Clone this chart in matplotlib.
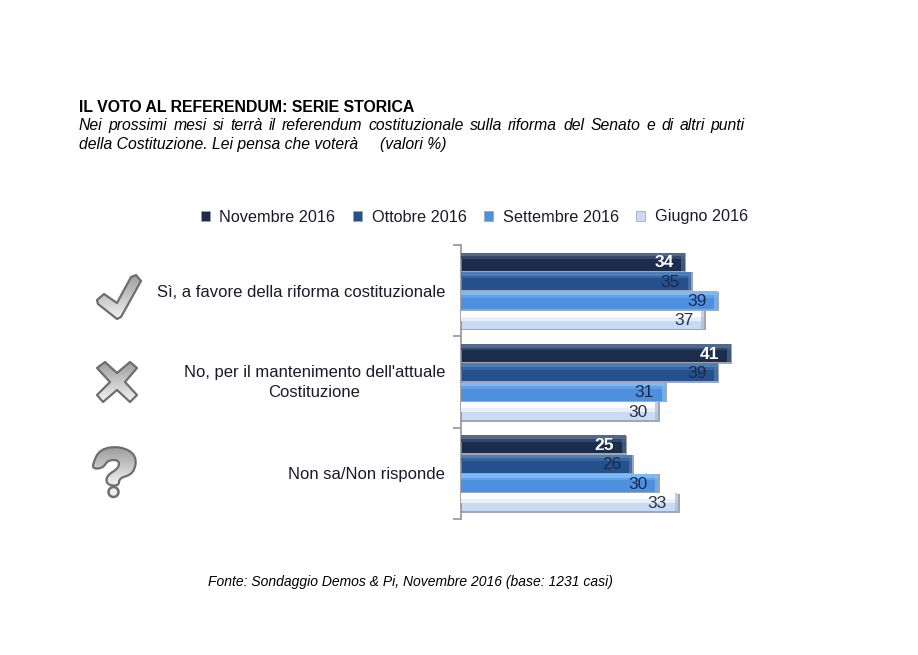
import matplotlib
matplotlib.use('Agg')
import matplotlib.pyplot as plt
import numpy as np
from matplotlib.path import Path
from matplotlib.patches import PathPatch, Circle
from matplotlib.transforms import ScaledTranslation

plt.rcParams['font.family'] = ['Liberation Sans', 'DejaVu Sans']

categories = ["Sì, a favore della riforma costituzionale",
              "No, per il mantenimento dell'attuale\nCostituzione",
              "Non sa/Non risponde"]
serie = ['Novembre 2016', 'Ottobre 2016', 'Settembre 2016', 'Giugno 2016']
novembre = [34, 41, 25]
ottobre = [35, 39, 26]
settembre = [39, 31, 30]
giugno = [37, 30, 33]
valori = [novembre, ottobre, settembre, giugno]

colori = ['#1b2c4d', '#24518c', '#4f90de', '#c9dbf4']
medi = ['#33496c', '#3765a0', '#649fe8', '#e6effb']
chiari = ['#4f6a8d', '#4f7db8', '#7cb9f7', '#ffffff']
smusso = ['#4f6a8d', '#4f7db8', '#7cb9f7', '#a9bcd8']
testo_col = ['white', '#1a2b4a', '#1a2b4a', '#2a3140']

fig = plt.figure(figsize=(9.18, 6.55), dpi=100)
W, H = 918., 655.
SCALA = 6.58
ax = fig.add_axes([461 / W, 1 - 519 / H, 300 / W, 274 / H])
ax.set_xlim(0, 300 / SCALA)
ax.set_ylim(2.5, -0.5)
ax.patch.set_alpha(0)

alt = 0.212
pos = np.arange(3)
for i, (vals, nome) in enumerate(zip(valori, serie)):
    y = pos + (i - 1.5) * alt
    v = np.array(vals)
    # ombra e bordo
    ax.barh(y + 0.01, v + 0.25, height=alt, color='#a2a6ae', zorder=1)
    ax.barh(y, v, height=alt * 0.92, color=colori[i], label=nome, zorder=2)
    # smusso in alto e a destra
    if i == 3:
        ax.barh(y - alt * 0.1, v, height=alt * 0.3, color=medi[i], zorder=3)
        ax.barh(y - alt * 0.31, v, height=alt * 0.3, color=chiari[i], zorder=3)
    else:
        ax.barh(y - alt * 0.36, v, height=alt * 0.2, color=chiari[i], zorder=3)
        ax.barh(y - alt * 0.2, v, height=alt * 0.14, color=medi[i], zorder=3)
    ax.barh(y, np.full(3, 0.5), left=v - 0.5, height=alt * 0.92, color=smusso[i], alpha=0.7, zorder=3)
    for yy, val in zip(y, vals):
        ax.text(val - 1.7, yy + 0.012, str(val), ha='right', va='center', fontsize=12.5,
                fontweight='bold' if i == 0 else 'normal', color=testo_col[i], zorder=5)

ax.set_yticks(pos)
ax.set_yticklabels(categories, fontsize=11.95, color='#1a1a2a', multialignment='center', linespacing=1.4)
ax.tick_params(axis='y', which='major', length=0, pad=11.5)
ax.set_yticks([-0.5, 0.5, 1.5, 2.5], minor=True)
ax.tick_params(axis='y', which='minor', length=6, color='#8c8c8c', width=1.1)
ax.set_xticks([])
for s in ['top', 'right', 'bottom']:
    ax.spines[s].set_visible(False)
ax.spines['left'].set_color('#8c8c8c')
ax.spines['left'].set_linewidth(1.1)
# la riga doppia sta un po' piu in alto
lab = ax.get_yticklabels()[1]
lab.set_transform(lab.get_transform() + ScaledTranslation(0, 2.5 / 72, fig.dpi_scale_trans))

h, l = ax.get_legend_handles_labels()
leg = fig.legend(h, l, ncol=4, loc='center', bbox_to_anchor=(474.5 / W, 1 - 217 / H), frameon=False,
                 fontsize=11.7, handlelength=0.55, handleheight=0.55, handletextpad=0.6,
                 columnspacing=1.08, labelcolor='#1a1a2a', borderpad=0)
for p in leg.get_patches():
    p.set_edgecolor('#9aa0aa')
    p.set_linewidth(0.5)

fig.text(79 / W, 1 - 107 / H, 'IL VOTO AL REFERENDUM: SERIE STORICA', fontsize=11.43, fontweight='bold',
         va='center', color='black')

# prima riga giustificata fino a x=745
riga = 'Nei prossimi mesi si terrà il referendum costituzionale sulla riforma del Senato e di altri punti'
r = fig.canvas.get_renderer()
parole = [fig.text(0, 0, w, fontsize=11.3, style='italic', va='baseline', color='black') for w in riga.split()]
larg = [t.get_window_extent(r).width for t in parole]
spazio = (745 - 79 - sum(larg)) / (len(parole) - 1)
x = 79.
for t, w in zip(parole, larg):
    t.set_position((x / W, 1 - 130.1 / H))
    x += w + spazio
fig.text(79 / W, 1 - 149.1 / H, 'della Costituzione. Lei pensa che voterà     (valori %)',
         fontsize=11.3, style='italic', va='baseline', color='black')
fig.text(208 / W, 1 - 582 / H, 'Fonte: Sondaggio Demos & Pi, Novembre 2016 (base: 1231 casi)',
         fontsize=10, style='italic', va='center', color='black')

# icone, in pixel del riferimento
over = fig.add_axes([0, 0, 1, 1])
over.axis('off')
over.patch.set_alpha(0)


def icona(path, x0, x1, y0, y1):
    patch = PathPatch(path, facecolor='none', edgecolor='#6e6e6e', linewidth=1.6, joinstyle='round', zorder=3)
    over.add_patch(patch)
    grad = np.linspace(0.62, 0.95, 64).reshape(-1, 1)
    im = over.imshow(grad, extent=(x0, x1, y1, y0), cmap='gray', vmin=0, vmax=1, aspect='auto', zorder=2)
    im.set_clip_path(patch)


def poligono(pts):
    return Path(pts + [pts[0]], closed=True)


def curva(pts):
    # contorno morbido: i punti fanno da controllo delle quadratiche
    p = np.array(pts, dtype=float)
    medio = (p + np.roll(p, -1, axis=0)) / 2
    vert = [tuple(medio[-1])]
    cod = [Path.MOVETO]
    for c, m in zip(p, medio):
        vert += [tuple(c), tuple(m)]
        cod += [Path.CURVE3, Path.CURVE3]
    return Path(vert, cod)


spunta = poligono([(131, 277), (136, 275), (141, 281), (121, 317), (117, 319), (98, 304), (97, 300),
                   (104, 294), (117, 303)])
icona(spunta, 97, 141, 275, 320)

croce = poligono([(97, 368), (105, 362), (117, 373), (130, 362), (137, 368), (125, 382), (137, 395),
                  (130, 402), (117, 390), (103, 402), (97, 395), (110, 382)])
icona(croce, 96, 137, 362, 402)

gancio = curva([(93, 463), (100, 449), (120, 446), (137, 455), (134, 474), (119, 478), (119, 486),
                (107, 485), (106, 476), (119, 468), (119, 460), (108, 460), (103, 468), (93, 469)])
icona(gancio, 93, 136, 448, 486)
over.add_patch(Circle((113.5, 492), 5, facecolor='#ededed', edgecolor='#6e6e6e', linewidth=1.8, zorder=3))

over.set_xlim(0, W)
over.set_ylim(H, 0)

fig.savefig('out.png', dpi=100)
